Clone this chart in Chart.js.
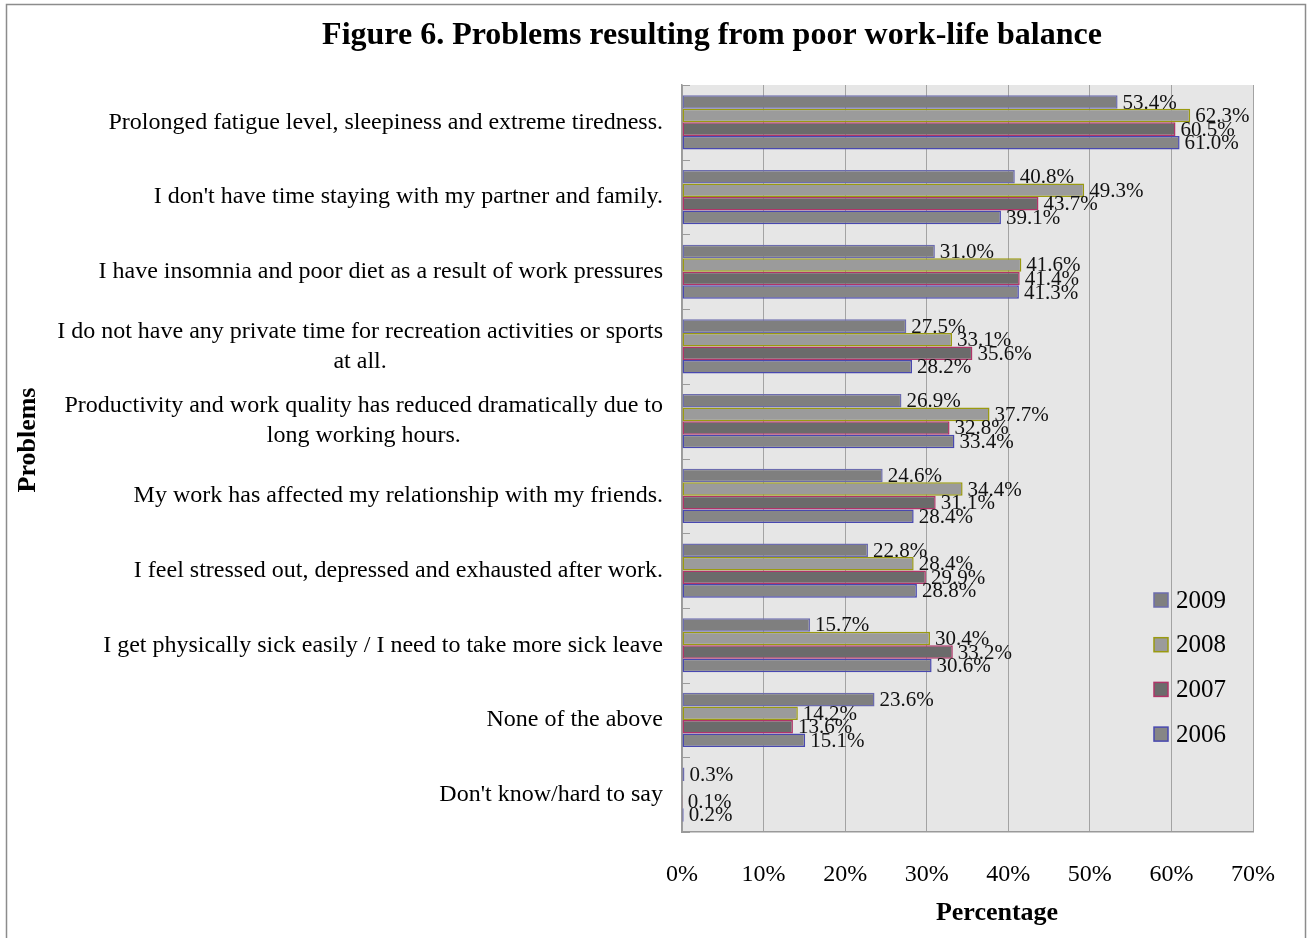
<!DOCTYPE html>
<html>
<head>
<meta charset="utf-8">
<title>Figure 6. Problems resulting from poor work-life balance</title>
<script src="https://cdn.jsdelivr.net/npm/chart.js@4.4.1/dist/chart.umd.min.js"></script>
<style>
  html, body { margin: 0; padding: 0; background: #ffffff; }
  #wrap { width: 1309px; height: 938px; position: relative; }
</style>
</head>
<body>
<div id="wrap"><canvas id="chart" width="1309" height="938"></canvas></div>
<script>
// Survey categories (multi-line entries are wrapped labels)
const categories = [
  "Prolonged fatigue level, sleepiness and extreme tiredness.",
  "I don't have time staying with my partner and family.",
  "I have insomnia and poor diet as a result of work pressures",
  ["I do not have any private time for recreation activities or sports", "at all."],
  ["Productivity and work quality has reduced dramatically due to", "long working hours."],
  "My work has affected my relationship with my friends.",
  "I feel stressed out, depressed and exhausted after work.",
  "I get physically sick easily / I need to take more sick leave",
  "None of the above",
  "Don't know/hard to say"
];

const seriesNames = ["2009", "2008", "2007", "2006"];

// Percentage of respondents per problem, by survey year
const values2009 = [53.4, 40.8, 31.0, 27.5, 26.9, 24.6, 22.8, 15.7, 23.6, 0.3];
const values2008 = [62.3, 49.3, 41.6, 33.1, 37.7, 34.4, 28.4, 30.4, 14.2, null];
const values2007 = [60.5, 43.7, 41.4, 35.6, 32.8, 31.1, 29.9, 33.2, 13.6, 0.1];
const values2006 = [61.0, 39.1, 41.3, 28.2, 33.4, 28.4, 28.8, 30.6, 15.1, 0.2];

const xTickLabels = ["0%", "10%", "20%", "30%", "40%", "50%", "60%", "70%"];

const chartTitle = "Figure 6. Problems resulting from poor work-life balance";
const xAxisTitle = "Percentage";
const yAxisTitle = "Problems";

const SERIF = "'Liberation Serif', 'Times New Roman', serif";

const seriesStyles = [
  { fill: "#7f7f7f", border: "#6c6cae" },
  { fill: "#9b9b9b", border: "#9a9a10" },
  { fill: "#6b6b6b", border: "#b03468" },
  { fill: "#868686", border: "#4848b0" }
];
const seriesValues = [values2009, values2008, values2007, values2006];

const datasets = seriesNames.map((name, i) => ({
  label: name,
  data: seriesValues[i],
  backgroundColor: seriesStyles[i].fill,
  borderColor: seriesStyles[i].border,
  borderWidth: 1.5,
  borderSkipped: false,
  categoryPercentage: 0.725,
  barPercentage: 1.0
}));

// Frame, plot background and inner category tick marks
const backdrop = {
  id: "backdrop",
  beforeDraw(chart) {
    const { ctx, chartArea: a } = chart;
    ctx.save();
    ctx.fillStyle = "#ffffff";
    ctx.fillRect(0, 0, chart.width, chart.height);
    ctx.strokeStyle = "#8c8c8c";
    ctx.lineWidth = 1.5;
    ctx.strokeRect(6.5, 4.5, 1299, 945);
    ctx.fillStyle = "#e6e6e6";
    ctx.fillRect(a.left, a.top, a.right - a.left, a.bottom - a.top);
    ctx.restore();
  },
  afterDraw(chart) {
    const { ctx, chartArea: a } = chart;
    const y = chart.scales.y;
    ctx.save();
    ctx.strokeStyle = "#9a9a9a";
    ctx.lineWidth = 1;
    for (let i = 0; i <= categories.length; i++) {
      const py = Math.round(y.getPixelForValue(i - 0.5)) + 0.5;
      ctx.beginPath();
      ctx.moveTo(a.left, py);
      ctx.lineTo(a.left + 8, py);
      ctx.stroke();
    }
    ctx.restore();
  }
};

// Category labels: block right-aligned to the axis, lines centred within the block
const categoryLabels = {
  id: "categoryLabels",
  afterDraw(chart) {
    const { ctx, chartArea: a } = chart;
    const y = chart.scales.y;
    ctx.save();
    ctx.font = "24px " + SERIF;
    ctx.fillStyle = "#000";
    ctx.textAlign = "center";
    ctx.textBaseline = "middle";
    const right = a.left - 19;
    const lh = 30;
    categories.forEach((lab, i) => {
      const lines = Array.isArray(lab) ? lab : [lab];
      const w = Math.max(...lines.map(l => ctx.measureText(l).width));
      const cx = right - w / 2;
      const cy = y.getPixelForValue(i);
      lines.forEach((l, j) => {
        ctx.fillText(l, cx, cy + (j - (lines.length - 1) / 2) * lh);
      });
    });
    ctx.restore();
  }
};

// Value labels beside each bar end
const valueLabels = {
  id: "valueLabels",
  afterDatasetsDraw(chart) {
    const { ctx } = chart;
    ctx.save();
    ctx.font = "21px " + SERIF;
    ctx.fillStyle = "#111";
    ctx.textAlign = "left";
    ctx.textBaseline = "middle";
    chart.data.datasets.forEach((ds, di) => {
      const meta = chart.getDatasetMeta(di);
      meta.data.forEach((bar, i) => {
        const v = ds.data[i];
        if (v === null || v === undefined) return;
        ctx.fillText(v.toFixed(1) + "%", bar.x + 5, bar.y + 1);
      });
    });
    ctx.restore();
  }
};

// Chart title, legend inside the plot area and axis titles
const legendAndTitles = {
  id: "legendAndTitles",
  afterDraw(chart) {
    const { ctx, chartArea: a } = chart;
    ctx.save();
    ctx.textBaseline = "middle";
    ctx.fillStyle = "#000";
    ctx.textAlign = "center";
    ctx.font = "bold 32px " + SERIF;
    ctx.fillText(chartTitle, 712, 36);

    chart.data.datasets.forEach((ds, i) => {
      const cy = 600 + i * 44.7;
      const bx = a.right - 99;
      ctx.fillStyle = ds.backgroundColor;
      ctx.fillRect(bx, cy - 7, 14, 14);
      ctx.strokeStyle = ds.borderColor;
      ctx.lineWidth = 1.5;
      ctx.strokeRect(bx, cy - 7, 14, 14);
      ctx.fillStyle = "#000";
      ctx.font = "25px " + SERIF;
      ctx.textAlign = "left";
      ctx.fillText(ds.label, bx + 22, cy + 1);
    });

    ctx.font = "bold 26px " + SERIF;
    ctx.fillStyle = "#000";
    ctx.textAlign = "center";
    ctx.fillText(xAxisTitle, 997, 913);
    ctx.translate(28, 440);
    ctx.rotate(-Math.PI / 2);
    ctx.fillText(yAxisTitle, 0, 0);
    ctx.restore();
  }
};

new Chart(document.getElementById("chart"), {
  type: "bar",
  data: { labels: categories, datasets },
  options: {
    indexAxis: "y",
    responsive: false,
    animation: false,
    layout: { padding: { left: 10, right: 56, top: 85, bottom: 0 } },
    plugins: {
      legend: { display: false },
      tooltip: { enabled: false },
      title: { display: false }
    },
    scales: {
      x: {
        min: 0,
        max: 70,
        ticks: {
          stepSize: 10,
          color: "#000",
          font: { family: SERIF, size: 24 },
          padding: 28,
          callback: (v, i) => xTickLabels[i]
        },
        grid: { color: "#a3a3a3", lineWidth: 1, drawTicks: false },
        border: { color: "#9a9a9a", width: 1.5 },
        afterFit(scale) { scale.height = 106; }
      },
      y: {
        ticks: { display: false },
        grid: { display: false },
        border: { color: "#9a9a9a", width: 1.5 },
        afterFit(scale) { scale.width = 672; }
      }
    }
  },
  plugins: [backdrop, categoryLabels, valueLabels, legendAndTitles]
});
</script>
</body>
</html>
